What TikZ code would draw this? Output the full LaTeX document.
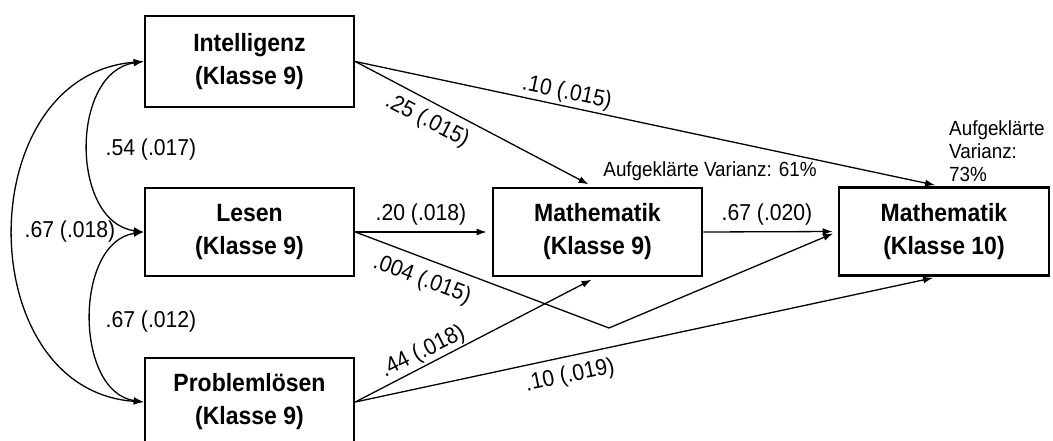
\documentclass[tikz,border=0pt]{standalone}
\usepackage{fontspec}
\setmainfont{Liberation Sans}[FakeStretch=0.92]
\usetikzlibrary{arrows.meta,calc}
\begin{document}
\begin{tikzpicture}[x=1pt,y=-1pt,
 box/.style={draw,line width=2.6pt,minimum width=209pt,minimum height=88pt,inner sep=0pt,align=center,font=\fontsize{25}{33}\selectfont\bfseries},
 lab/.style={font=\fontsize{23}{27}\selectfont,inner sep=1pt},
 note/.style={font=\fontsize{20.5}{23}\selectfont,inner sep=0pt},
 arr/.style={line width=1.3pt,-{Latex[length=10pt,width=7pt]},shorten >=5pt},
 dbl/.style={line width=1.3pt,{Latex[length=10pt,width=7pt]}-{Latex[length=10pt,width=7pt]}}]
\useasboundingbox (0,0) rectangle (1053,441);
\clip (0,0) rectangle (1053,441);

\node[box,minimum height=91pt] (Intel) at (249.5,61.5) {Intelligenz\\(Klasse 9)};
\node[box] (Lesen) at (249.5,232) {Lesen\\(Klasse 9)};
\node[box] (Prob) at (249.5,402) {Problemlösen\\(Klasse 9)};
\node[box] (M9) at (597.5,232) {Mathematik\\(Klasse 9)};
\node[box,minimum width=210pt] (M10) at (944,231.5) {Mathematik\\(Klasse 10)};

% correlations
\draw[dbl] (Intel.west) .. controls (-30,75) and (-30,390) .. (Prob.west);
\draw[dbl] (Intel.west) .. controls (70,72) and (70,222) .. (Lesen.west);
\draw[dbl] (Lesen.west) .. controls (74,242) and (74,392) .. (Prob.west);
\node[lab] (c1) at (151,150) {.54 (.017)};
\node[lab] (c2) at (70,232) {.67 (.018)};
\node[lab] (c3) at (151,322) {.67 (.012)};

% paths
\coordinate (kink) at (609,328);
\draw[arr] (Intel.east) -- ($(M10.north)+(-4,0)$);
\draw[arr] (Intel.east) -- ($(M9.north)+(-4.5,0)$);
\draw[arr] (Lesen.east) -- (M9.west);
\draw[arr] (Lesen.east) -- (kink) -- (M10.west);
\draw[arr] (M9.east) -- (M10.west);
\draw[arr] (Prob.east) -- ($(M9.south)+(-1.5,0)$);
\draw[arr] (Prob.east) -- ($(M10.south)+(-6,0)$);

\node[lab,rotate=-11.8] (l1) at (567,93) {.10 (.015)};
\node[lab,rotate=-27.2] (l2) at (427,121) {.25 (.015)};
\node[lab] (l3) at (421,215) {.20 (.018)};
\node[lab,rotate=-20.6] (l4) at (422,280) {.004 (.015)};
\node[lab] (l5) at (767,215) {.67 (.020)};
\node[lab,rotate=26.6] (l6) at (423,352) {.44 (.018)};
\node[lab,rotate=11.7] (l7) at (570,376) {.10 (.019)};

\node[note] (v1) at (710,171) {Aufgeklärte Varianz: 61\%};
\node[note,align=left,anchor=north west] (v2) at (949,120) {Aufgeklärte\\Varianz:\\73\%};
\end{tikzpicture}
\end{document}
